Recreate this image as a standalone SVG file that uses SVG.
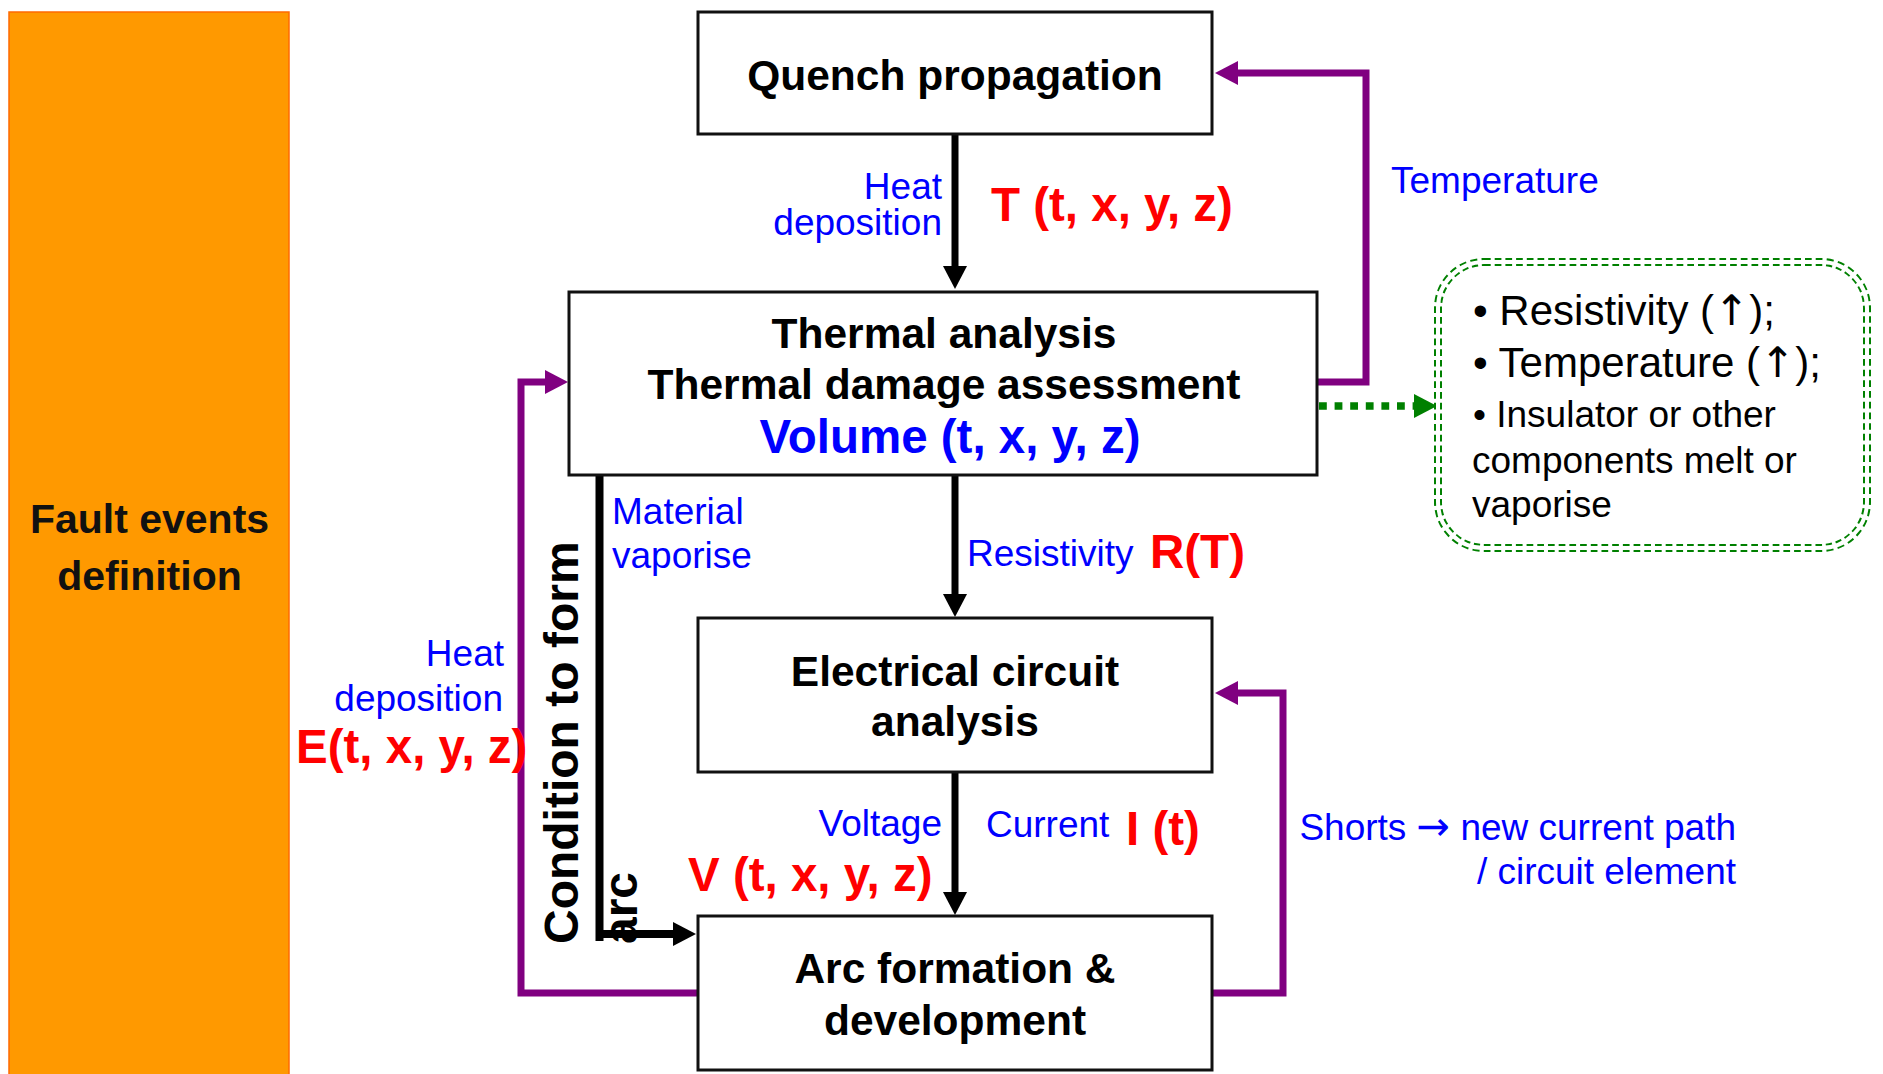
<svg xmlns="http://www.w3.org/2000/svg" width="1883" height="1074" viewBox="0 0 1883 1074">
<style>
.box{fill:#fff;stroke:#111;stroke-width:3}
.nt{font-family:"Liberation Sans",Arial,sans-serif;font-weight:bold;font-size:42.5px;fill:#000;text-anchor:middle}
.bl{font-family:"Liberation Sans",Arial,sans-serif;font-size:37px;fill:#0000FF}
.rd{font-family:"Liberation Sans",Arial,sans-serif;font-weight:bold;font-size:47.5px;fill:#FF0000}
.gt{font-family:"Liberation Sans",Arial,sans-serif;fill:#000}
.ar{font-family:"DejaVu Sans",sans-serif}
.kline{fill:none;stroke:#000;stroke-width:7}
.pline{fill:none;stroke:#800080;stroke-width:7}
.end{text-anchor:end}
</style>
<defs>
<marker id="ak" markerUnits="userSpaceOnUse" markerWidth="24" markerHeight="24" refX="1" refY="12" orient="auto"><path d="M0,0 L23,12 L0,24 z" fill="#000"/></marker>
<marker id="ap" markerUnits="userSpaceOnUse" markerWidth="24" markerHeight="24" refX="1" refY="12" orient="auto"><path d="M0,0 L23,12 L0,24 z" fill="#800080"/></marker>
<marker id="ag" markerUnits="userSpaceOnUse" markerWidth="24" markerHeight="24" refX="1" refY="12" orient="auto"><path d="M0,0 L23,12 L0,24 z" fill="#008000"/></marker>
</defs>

<g id="fault">
<rect x="9" y="12" width="280" height="1070" fill="#FF9900" stroke="#FF6A00" stroke-width="1.5"/>
<text x="149.5" y="533" style="font-family:'Liberation Sans',Arial,sans-serif;font-weight:bold;font-size:41px;fill:#111;text-anchor:middle">Fault events</text>
<text x="149.5" y="590" style="font-family:'Liberation Sans',Arial,sans-serif;font-weight:bold;font-size:41px;fill:#111;text-anchor:middle">definition</text>
</g>

<g id="connectors">
<path class="kline" d="M955,134 V267" marker-end="url(#ak)"/>
<path class="kline" d="M955,475 V595" marker-end="url(#ak)"/>
<path class="kline" d="M955,772 V893" marker-end="url(#ak)"/>
<path fill="none" stroke="#000" stroke-width="8" d="M599.5,475 V941"/>
<path fill="none" stroke="#000" stroke-width="8" d="M596,934 H674" marker-end="url(#ak)"/>
<path class="pline" d="M1318,382 H1366 V73 H1237" marker-end="url(#ap)"/>
<path class="pline" d="M697,993 H521 V382 H546" marker-end="url(#ap)"/>
<path class="pline" d="M1213,993 H1283 V693 H1237" marker-end="url(#ap)"/>
<path fill="none" stroke="#008000" stroke-width="7.5" stroke-dasharray="7.8 7.8" d="M1319,406 H1415" marker-end="url(#ag)"/>
</g>

<g id="quench">
<rect class="box" x="698" y="12" width="514" height="122"/>
<text class="nt" x="955" y="90">Quench propagation</text>
</g>

<g id="thermal">
<rect class="box" x="569" y="292" width="748" height="183"/>
<text class="nt" x="944" y="348">Thermal analysis</text>
<text class="nt" x="944" y="399">Thermal damage assessment</text>
<text class="nt" x="950" y="453" style="font-size:47.5px;fill:#0000FF">Volume (t, x, y, z)</text>
</g>

<g id="electrical">
<rect class="box" x="698" y="618" width="514" height="154"/>
<text class="nt" x="955" y="686">Electrical circuit</text>
<text class="nt" x="955" y="736">analysis</text>
</g>

<g id="arc">
<rect class="box" x="698" y="916" width="514" height="154"/>
<text class="nt" x="955" y="983">Arc formation &amp;</text>
<text class="nt" x="955" y="1035">development</text>
</g>

<g id="effects">
<rect x="1438" y="262" width="429" height="286" rx="46" ry="46" fill="none" stroke="#008000" stroke-width="8" stroke-dasharray="6.7 4"/>
<rect x="1438" y="262" width="429" height="286" rx="46" ry="46" fill="none" stroke="#fff" stroke-width="4"/>
<text class="gt" x="1473" y="325" font-size="42">• Resistivity (<tspan class="ar">↑</tspan>);</text>
<text class="gt" x="1473" y="377" font-size="42">• Temperature (<tspan class="ar">↑</tspan>);</text>
<text class="gt" x="1473" y="427" font-size="37">•  Insulator or other</text>
<text class="gt" x="1472" y="473" font-size="37">components melt or</text>
<text class="gt" x="1472" y="517" font-size="37">vaporise</text>
</g>

<g id="labels">
<text class="bl end" x="942" y="199">Heat</text>
<text class="bl end" x="942" y="235">deposition</text>
<text class="rd" x="991" y="221">T (t, x, y, z)</text>
<text class="bl" x="1391" y="193">Temperature</text>
<text class="bl" x="612" y="524">Material</text>
<text class="bl" x="612" y="568">vaporise</text>
<text class="bl" x="967" y="566">Resistivity</text>
<text class="rd" x="1150" y="568">R(T)</text>
<text class="bl end" x="504" y="666">Heat</text>
<text class="bl end" x="503" y="711">deposition</text>
<text class="rd" x="296" y="763">E(t, x, y, z)</text>
<text class="bl end" x="942" y="836">Voltage</text>
<text class="bl" x="986" y="837">Current</text>
<text class="rd" x="1126" y="845">I (t)</text>
<text class="rd" x="688" y="891">V (t, x, y, z)</text>
<text class="bl end" x="1736" y="840">Shorts <tspan class="ar" font-size="40">→</tspan> new current path</text>
<text class="bl end" x="1736" y="884">/ circuit element</text>
<g transform="translate(578,944) rotate(-90)">
<text x="0" y="0" style="font-family:'Liberation Sans',Arial,sans-serif;font-weight:bold;font-size:48px;fill:#000">Condition to form</text>
<text x="0" y="59" style="font-family:'Liberation Sans',Arial,sans-serif;font-weight:bold;font-size:48px;fill:#000">arc</text>
</g>
</g>
</svg>
